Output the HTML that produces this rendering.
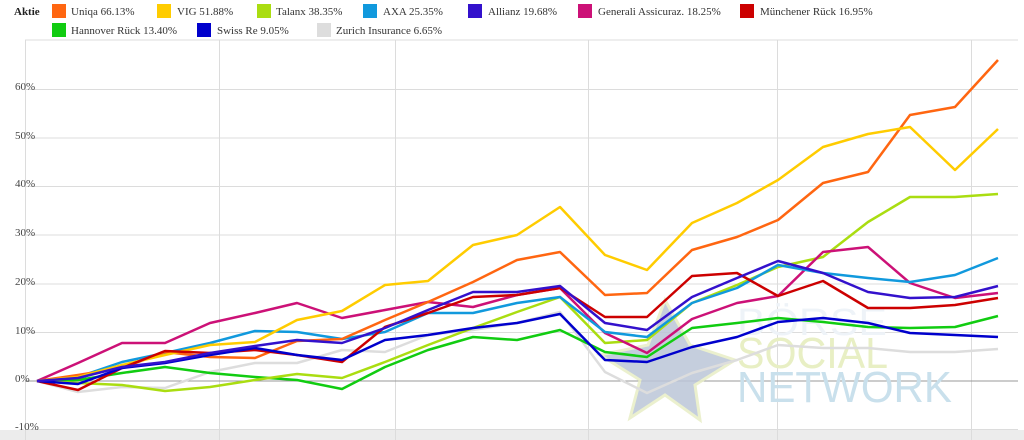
<!DOCTYPE html>
<html><head><meta charset="utf-8"><style>
body{margin:0;background:#fff;width:1024px;height:440px;overflow:hidden;font-family:"Liberation Serif",serif;}
</style></head><body>
<svg width="1024" height="440" xmlns="http://www.w3.org/2000/svg" style="position:absolute;left:0;top:0">
<rect x="0" y="430" width="1024" height="10" fill="#ececec"/>
<g stroke="#dcdcdc" stroke-width="1">
<line x1="25" y1="40" x2="1018" y2="40"/>
<line x1="25" y1="89.5" x2="1018" y2="89.5"/>
<line x1="25" y1="138" x2="1018" y2="138"/>
<line x1="25" y1="186.5" x2="1018" y2="186.5"/>
<line x1="25" y1="235" x2="1018" y2="235"/>
<line x1="25" y1="284" x2="1018" y2="284"/>
<line x1="25" y1="332.5" x2="1018" y2="332.5"/>
<line x1="25" y1="429.5" x2="1018" y2="429.5"/>
<line x1="25.5" y1="40" x2="25.5" y2="440"/>
<line x1="219.5" y1="40" x2="219.5" y2="440"/>
<line x1="395.5" y1="40" x2="395.5" y2="440"/>
<line x1="588.5" y1="40" x2="588.5" y2="440"/>
<line x1="777.5" y1="40" x2="777.5" y2="440"/>
<line x1="971.5" y1="40" x2="971.5" y2="440"/>
</g>
<line x1="25" y1="381" x2="1018" y2="381" stroke="#999" stroke-width="1"/>
<g font-size="11" fill="#444" font-family="Liberation Serif,serif">
<text x="15" y="90">60%</text><text x="15" y="139">50%</text><text x="15" y="187">40%</text>
<text x="15" y="236">30%</text><text x="15" y="285">20%</text><text x="15" y="334">10%</text>
<text x="15" y="382">0%</text><text x="15" y="430">-10%</text>
</g>
<!-- watermark -->
<polygon points="665,300 690,345 735,360 695,385 700,420 665,395 630,418 640,380 600,355 648,345" fill="#bcc6d8" stroke="#e8eec6" stroke-width="3" opacity="0.85"/>
<text x="737" y="335" font-family="Liberation Sans,sans-serif" font-size="38" fill="#eef3f8" textLength="150" lengthAdjust="spacingAndGlyphs">BÖRSE</text>
<text x="737" y="368" font-family="Liberation Sans,sans-serif" font-size="44" fill="#e8efc4" textLength="151" lengthAdjust="spacingAndGlyphs">SOCIAL</text>
<text x="737" y="402" font-family="Liberation Sans,sans-serif" font-size="44" fill="#c9e0ec" textLength="215" lengthAdjust="spacingAndGlyphs">NETWORK</text>
<g fill="none" stroke-width="2.5" stroke-linejoin="round">
<polyline stroke="#dddddd" points="37,381 78,392 122,387 165,388 210,372 255,363 297,363 342,350 385,352 428,335 473,330 517,323 560,312 605,372 647,393 692,373 737,360 778,345 823,348 868,348 910,352 955,352 998,349"/>
<polyline stroke="#11cc11" points="37,381 78,380 122,373 165,367 210,373 255,377 297,380 342,389 385,367 428,350 473,337 517,340 560,330 605,352 647,357 692,328 737,323 778,318 823,322 868,327 910,328 955,327 998,316"/>
<polyline stroke="#aadd11" points="37,381 78,383 122,385 165,391 210,387 255,380 297,374 342,378 385,362 428,345 473,328 517,312 560,297 605,343 647,340 692,303 737,285 778,267 823,257 868,222 910,197 955,197 998,194"/>
<polyline stroke="#cc1177" points="37,381 78,363 122,343 165,343 210,323 255,313 297,303 342,318 385,310 428,302 473,307 517,295 560,288 605,333 647,353 692,319 737,303 778,296 823,252 868,247 910,283 955,298 998,293"/>
<polyline stroke="#1199dd" points="37,381 78,377 122,362 165,353 210,343 255,331 297,332 342,339 385,332 428,313 473,313 517,303 560,297 605,332 647,337 692,303 737,288 778,265 823,273 868,278 910,282 955,275 998,258"/>
<polyline stroke="#ff6611" points="37,381 78,375 122,368 165,352 210,357 255,358 297,341 342,339 385,320 428,302 473,282 517,260 560,252 605,295 647,293 692,250 737,237 778,220 823,183 868,172 910,115 955,107 998,60"/>
<polyline stroke="#ffcc00" points="37,381 78,377 122,365 165,355 210,345 255,342 297,320 342,311 385,285 428,281 473,245 517,235 560,207 605,255 647,270 692,223 737,203 778,180 823,147 868,134 910,127 955,170 998,129"/>
<polyline stroke="#cc0000" points="37,381 78,390 122,368 165,351 210,353 255,350 297,355 342,362 385,327 428,313 473,297 517,295 560,288 605,317 647,317 692,276 737,273 778,296 823,281 868,308 910,308 955,305 998,298"/>
<polyline stroke="#0000cc" points="37,381 78,384 122,368 165,363 210,355 255,348 297,355 342,360 385,340 428,335 473,328 517,323 560,314 605,360 647,362 692,347 737,337 778,322 823,318 868,323 910,333 955,335 998,337"/>
<polyline stroke="#3311cc" points="37,381 78,378 122,367 165,362 210,353 255,346 297,340 342,343 385,328 428,310 473,292 517,292 560,286 605,323 647,330 692,297 737,278 778,261 823,273 868,292 910,298 955,297 998,286"/>
</g>
<!-- legend -->
<g font-size="11" fill="#333">
<text x="14" y="15" font-weight="bold" fill="#222">Aktie</text>
<rect x="52" y="4" width="14" height="14" fill="#ff6611"/><text x="71" y="15">Uniqa  66.13%</text>
<rect x="157" y="4" width="14" height="14" fill="#ffcc00"/><text x="177" y="15">VIG  51.88%</text>
<rect x="257" y="4" width="14" height="14" fill="#aadd11"/><text x="276" y="15">Talanx  38.35%</text>
<rect x="363" y="4" width="14" height="14" fill="#1199dd"/><text x="383" y="15">AXA  25.35%</text>
<rect x="468" y="4" width="14" height="14" fill="#3311cc"/><text x="488" y="15">Allianz  19.68%</text>
<rect x="578" y="4" width="14" height="14" fill="#cc1177"/><text x="598" y="15">Generali Assicuraz.  18.25%</text>
<rect x="740" y="4" width="14" height="14" fill="#cc0000"/><text x="760" y="15">Münchener Rück  16.95%</text>
<rect x="52" y="23" width="14" height="14" fill="#11cc11"/><text x="71" y="34">Hannover Rück  13.40%</text>
<rect x="197" y="23" width="14" height="14" fill="#0000cc"/><text x="217" y="34">Swiss Re  9.05%</text>
<rect x="317" y="23" width="14" height="14" fill="#dddddd"/><text x="336" y="34">Zurich Insurance  6.65%</text>
</g>
</svg>
</body></html>
